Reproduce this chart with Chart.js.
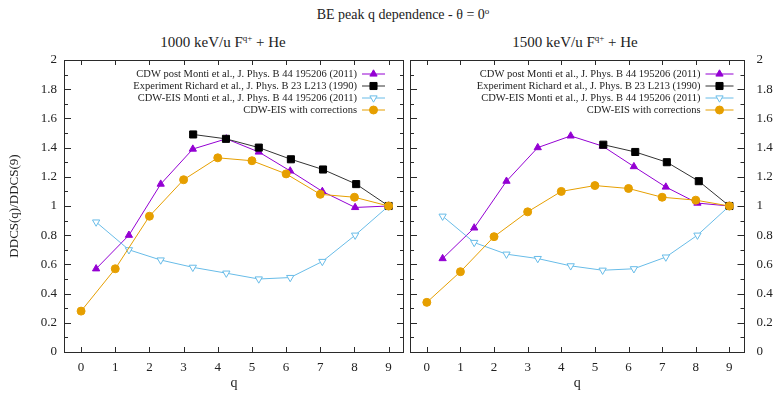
<!DOCTYPE html>
<html>
<head>
<meta charset="utf-8">
<script src="https://cdn.jsdelivr.net/npm/chart.js@4.4.1/dist/chart.umd.min.js"></script>
<style>
  html, body { margin: 0; padding: 0; background: #fff; }
  #wrap { position: relative; width: 778px; height: 402px; overflow: hidden;
          font-family: "Liberation Serif", "DejaVu Serif", serif; color: #222; }
  .txt { position: absolute; white-space: nowrap; transform: translateX(-50%); line-height: 1; }
  #main { left: 403px; top: 8px; font-size: 14px; }
  #sub1 { left: 223px; top: 35px; font-size: 15px; }
  #sub2 { left: 575px; top: 35px; font-size: 15px; }
  sup { font-size: 9px; vertical-align: top; position: relative; top: -1px; }
  canvas { position: absolute; top: 0; }
  #c1 { left: 0; }
  #c2 { left: 404px; }
</style>
</head>
<body>
<div id="wrap">
  <div class="txt" id="main">BE peak q dependence - θ = 0<sup>o</sup></div>
  <div class="txt" id="sub1">1000 keV/u F<sup>q+</sup> + He</div>
  <div class="txt" id="sub2">1500 keV/u F<sup>q+</sup> + He</div>
  <canvas id="c1" width="410" height="402"></canvas>
  <canvas id="c2" width="374" height="402"></canvas>
</div>
<script>
// Tick labels
const qTicks = [0, 1, 2, 3, 4, 5, 6, 7, 8, 9];
const yTicks = [0, 0.2, 0.4, 0.6, 0.8, 1, 1.2, 1.4, 1.6, 1.8, 2];

// Series names
const seriesNames = [
  'CDW post Monti et al., J. Phys. B 44 195206 (2011)',
  'Experiment Richard et al., J. Phys. B 23 L213 (1990)',
  'CDW-EIS Monti et al., J. Phys. B 44 195206 (2011)',
  'CDW-EIS with corrections'
];

// 1000 keV/u
const qTheory1000 = [0.44, 1.40, 2.33, 3.27, 4.25, 5.20, 6.12, 7.06, 8.02, 9];
const qExp1000    = [3.28, 4.24, 5.20, 6.14, 7.08, 8.05, 9];
const cdwPost1000 = [0.57, 0.80, 1.15, 1.39, 1.46, 1.37, 1.24, 1.10, 0.99, 1.00];
const exp1000     = [1.49, 1.46, 1.40, 1.32, 1.25, 1.15, 1.00];
const cdwEis1000  = [0.89, 0.70, 0.63, 0.58, 0.54, 0.50, 0.51, 0.62, 0.80, 1.00];
const corr1000    = [0.28, 0.57, 0.93, 1.18, 1.33, 1.31, 1.22, 1.08, 1.06, 1.00];

// 1500 keV/u
const qTheory1500 = [0.47, 1.41, 2.37, 3.30, 4.28, 5.23, 6.16, 7.11, 8.05, 9];
const qExp1500    = [5.25, 6.20, 7.14, 8.09, 9];
const cdwPost1500 = [0.64, 0.85, 1.17, 1.40, 1.48, 1.41, 1.27, 1.13, 1.02, 1.00];
const exp1500     = [1.42, 1.37, 1.30, 1.17, 1.00];
const cdwEis1500  = [0.93, 0.75, 0.67, 0.64, 0.59, 0.56, 0.57, 0.65, 0.80, 1.00];
const corr1500    = [0.34, 0.55, 0.79, 0.96, 1.10, 1.14, 1.12, 1.06, 1.04, 1.00];

// Corrected CDW-EIS is evaluated at integer charge states
const qCorr = qTicks;

const FONT = '"Liberation Serif", "DejaVu Serif", serif';
const PURPLE = '#9400d3', BLACK = '#000000', SKY = '#68bce8', ORANGE = '#e69f00';

function pts(xs, ys) { return xs.map((x, i) => ({ x: x, y: ys[i] })); }

function makeDatasets(qt, qe, post, exp, eis, corr) {
  return [
    { label: seriesNames[0], data: pts(qt, post), borderColor: PURPLE, backgroundColor: PURPLE,
      pointStyle: 'triangle', pointRadius: 4.2, pointBackgroundColor: PURPLE, pointBorderColor: PURPLE, order: 4 },
    { label: seriesNames[1], data: pts(qe, exp), borderColor: '#333', backgroundColor: BLACK,
      pointStyle: 'rect', pointRadius: 5, pointBackgroundColor: BLACK, pointBorderColor: BLACK, order: 3 },
    { label: seriesNames[2], data: pts(qt, eis), borderColor: SKY, backgroundColor: '#fff',
      pointStyle: 'triangle', pointRotation: 180, pointRadius: 4.2, pointBackgroundColor: '#fff', pointBorderColor: SKY, order: 2 },
    { label: seriesNames[3], data: pts(qCorr, corr), borderColor: ORANGE, backgroundColor: ORANGE,
      pointStyle: 'circle', pointRadius: 4, pointBackgroundColor: ORANGE, pointBorderColor: ORANGE, order: 1 }
  ].map(d => Object.assign({ borderWidth: 1, pointBorderWidth: 1, tension: 0, fill: false }, d));
}

// Frame with inward ticks on all four sides
const framePlugin = {
  id: 'frame',
  afterDraw(chart) {
    const { ctx, chartArea: a } = chart;
    const x = chart.scales.x, y = chart.scales.y;
    ctx.save();
    ctx.strokeStyle = '#2a2a2a';
    ctx.lineWidth = 1;
    ctx.strokeRect(Math.round(a.left) + 0.5, Math.round(a.top) + 0.5,
                   Math.round(a.right - a.left) - 1, Math.round(a.bottom - a.top));
    ctx.beginPath();
    qTicks.forEach(q => {
      const px = Math.round(x.getPixelForValue(q)) + 0.5;
      ctx.moveTo(px, a.bottom); ctx.lineTo(px, a.bottom - 5);
      ctx.moveTo(px, a.top); ctx.lineTo(px, a.top + 5);
    });
    for (let k = 0; k <= 20; k++) {
      const py = Math.round(y.getPixelForValue(k / 10)) + 0.5;
      const len = k % 2 === 0 ? 7 : 4;
      ctx.moveTo(a.left, py); ctx.lineTo(a.left + len, py);
      ctx.moveTo(a.right, py); ctx.lineTo(a.right - len, py);
    }
    ctx.stroke();
    ctx.restore();
  }
};

// Key: right-aligned text with line sample and marker
const keyPlugin = {
  id: 'key',
  afterDatasetsDraw(chart, args, o) {
    const { ctx, chartArea: a } = chart;
    ctx.save();
    ctx.font = '10.5px ' + FONT;
    ctx.textAlign = 'right';
    ctx.textBaseline = 'middle';
    chart.data.datasets.forEach((ds, i) => {
      const yy = a.top + o.top + i * o.row;
      ctx.fillStyle = '#222';
      ctx.fillText(ds.label, a.right - o.textEnd, yy);
      const x0 = a.right - o.lineStart, x1 = a.right - o.lineEnd;
      ctx.strokeStyle = ds.borderColor;
      ctx.lineWidth = 1;
      ctx.beginPath(); ctx.moveTo(x0, yy); ctx.lineTo(x1, yy); ctx.stroke();
      ctx.fillStyle = ds.pointBackgroundColor;
      ctx.strokeStyle = ds.pointBorderColor;
      Chart.helpers.drawPoint(ctx, { pointStyle: ds.pointStyle, rotation: ds.pointRotation || 0,
        radius: ds.pointRadius, borderWidth: 1 }, (x0 + x1) / 2, yy);
    });
    ctx.restore();
  }
};

function makeChart(id, datasets, side, key) {
  const left = side === 'left';
  return new Chart(document.getElementById(id), {
    type: 'line',
    data: { datasets: datasets },
    plugins: [framePlugin, keyPlugin],
    options: {
      responsive: false,
      animation: false,
      layout: { padding: { left: left ? 0 : 3, right: left ? 3 : 0, top: 60, bottom: 0 } },
      plugins: { legend: { display: false }, tooltip: { enabled: false }, key: key },
      scales: {
        x: {
          type: 'linear', min: -0.5, max: 9.45,
          grid: { display: false, drawTicks: false }, border: { display: false },
          afterBuildTicks: s => { s.ticks = qTicks.map(v => ({ value: v })); },
          afterFit: s => { s.height = 50; },
          ticks: { padding: 8, maxRotation: 0, autoSkip: false, color: '#222',
                   font: { family: FONT, size: 13 }, callback: v => String(v) },
          title: { display: true, text: 'q', color: '#222', font: { family: FONT, size: 14 },
                   padding: { top: 0, bottom: 10 } }
        },
        y: {
          type: 'linear', position: side, min: 0, max: 2,
          grid: { display: false, drawTicks: false }, border: { display: false },
          afterBuildTicks: s => { s.ticks = yTicks.map(v => ({ value: v })); },
          afterFit: s => { s.width = left ? 64 : 33.5; },
          ticks: { padding: left ? 7 : 12, color: '#222', font: { family: FONT, size: 13 },
                   callback: v => String(Math.round(v * 10) / 10) },
          title: { display: left, text: 'DDCS(q)/DDCS(9)', color: '#222',
                   font: { family: FONT, size: 13 }, padding: { top: 7, bottom: 0 } }
        }
      }
    }
  });
}

makeChart('c1', makeDatasets(qTheory1000, qExp1000, cdwPost1000, exp1000, cdwEis1000, corr1000),
          'left', { top: 14, row: 12, textEnd: 47, lineStart: 42, lineEnd: 19 });
makeChart('c2', makeDatasets(qTheory1500, qExp1500, cdwPost1500, exp1500, cdwEis1500, corr1500),
          'right', { top: 14, row: 12, textEnd: 44, lineStart: 39, lineEnd: 11 });
</script>
</body>
</html>
